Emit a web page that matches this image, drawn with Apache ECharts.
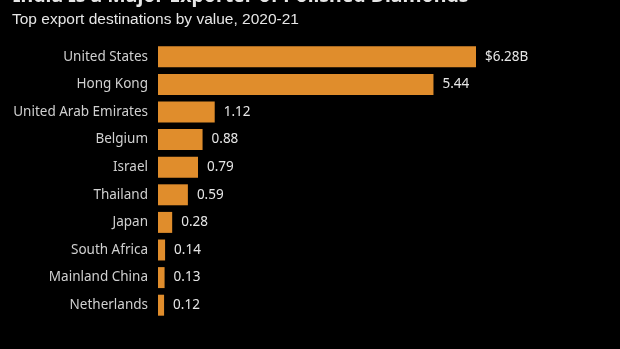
<!DOCTYPE html>
<html>
<head>
<meta charset="utf-8">
<script src="https://cdn.jsdelivr.net/npm/echarts@6/dist/echarts.min.js"></script>
<style>html,body{margin:0;padding:0;background:#000;}#c{width:620px;height:349px;}</style>
</head>
<body>
<div id="c"></div>
<script>
const titleText = "India Is a Major Exporter of Polished Diamonds";
const subtitleText = "Top export destinations by value, 2020-21";
const categories = ["United States","Hong Kong","United Arab Emirates","Belgium","Israel","Thailand","Japan","South Africa","Mainland China","Netherlands"];
const values = [6.28,5.44,1.12,0.88,0.79,0.59,0.28,0.14,0.13,0.12];

const chart = echarts.init(document.getElementById('c'), null, {renderer:'canvas'});
chart.setOption({
  backgroundColor: '#000',
  animation: false,
  title: [
    {text: titleText, left: 8, top: -19, textStyle:{color:'#e6e6e6', fontSize:19.5, fontWeight:'bold', fontFamily:'Noto Sans'}},
    {text: subtitleText, left: 7, top: 7, textStyle:{color:'#e6e6e6', fontSize:15.5, fontWeight:'normal', fontFamily:'Liberation Sans'}}
  ],
  grid: {left: 158, top: 43, width: 318, height: 276, containLabel: false},
  xAxis: {type:'value', min:0, max:6.28, show:false},
  yAxis: {
    type:'category', data: categories, inverse: true,
    axisLine:{show:false}, axisTick:{show:false}, splitLine:{show:false},
    axisLabel:{color:'#d0d0d0', fontSize:13.5, fontFamily:'Noto Sans', margin:10}
  },
  series: [{
    type:'bar', data: values, barWidth:'76%',
    itemStyle:{color:'#e08d2c'},
    label:{show:true, position:'right', distance:9, color:'#e6e6e6', fontSize:13.5, fontFamily:'Noto Sans',
      formatter: p => p.dataIndex === 0 ? '$' + p.value.toFixed(2) + 'B' : p.value.toFixed(2)}
  }]
});
</script>
</body>
</html>
